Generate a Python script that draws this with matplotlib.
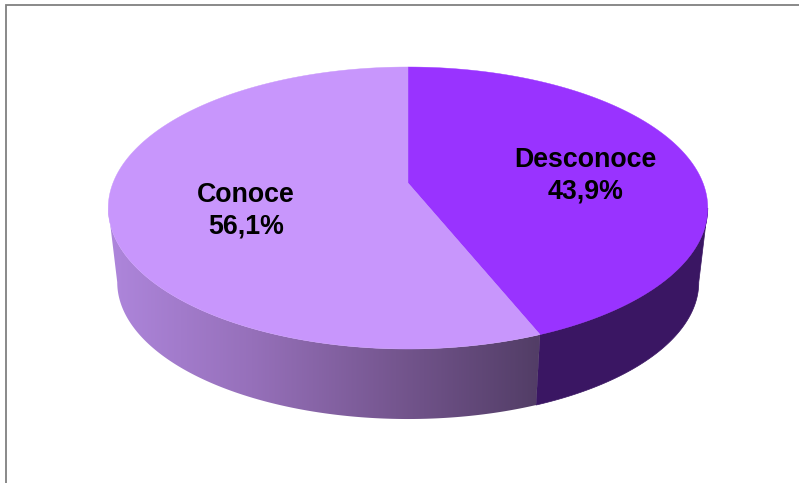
import numpy as np
import matplotlib
matplotlib.use('Agg')
import matplotlib.pyplot as plt
from matplotlib.colors import LinearSegmentedColormap
from matplotlib.patches import Polygon

labels = ['Desconoce', 'Conoce']
shares = [43.9, 56.1]
top_colors = ['#9933FF', '#C896FC']
side_dark = '#3A1663'
side_ramp = ['#AE86DC', '#9670BA', '#75568F', '#523D66']

# pie geometry in pixels, tilted circle seen in perspective
cx, apex_y = 408, 183
top_y, bottom_y = 67, 349
half_w = 295
depth_y, depth_scale = 258, 0.97

persp = (top_y + bottom_y - 2 * apex_y) / (bottom_y - top_y)
tilt = top_y * (1 + persp) - apex_y


def project(deg, lower=False):
    # deg runs clockwise from 12 o'clock
    a = np.radians(deg)
    w = 1 + persp * np.cos(a)
    x = half_w * np.sin(a) / w
    y = (tilt * np.cos(a) + apex_y) / w - apex_y
    if lower:
        return cx + depth_scale * x, depth_y + depth_scale * y
    return cx + x, apex_y + y


def arc(start, end, lower=False):
    t = np.linspace(start, end, 200)
    return np.column_stack(project(t, lower))


plt.rcParams['font.family'] = ['Liberation Sans', 'DejaVu Sans']
fig = plt.figure(figsize=(7.99, 4.83), dpi=100)
ax = fig.add_axes([0, 0, 1, 1])
ax.set_xlim(0, 799)
ax.set_ylim(483, 0)
ax.axis('off')

# frame, only top and left are visible
ax.plot([6, 6, 799], [483, 4.5, 4.5], color='#808080', lw=1.3, solid_joinstyle='miter')

split = shares[0] / sum(shares) * 360
edge = np.degrees(np.arccos(-persp))

# side wall, dark part under the first slice
dark_wall = np.vstack([arc(edge, split), arc(split, edge, True)])
ax.add_patch(Polygon(dark_wall, closed=True, fc=side_dark, ec=side_dark, lw=0.5))

# side wall with the horizontal shading under the second slice
light_wall = np.vstack([arc(split, 360 - edge), arc(360 - edge, split, True)])
clip = Polygon(light_wall, closed=True, fc='none', ec='none')
ax.add_patch(clip)
ramp = LinearSegmentedColormap.from_list('ramp', side_ramp)
img = ax.imshow(np.linspace(0, 1, 256)[None, :], cmap=ramp, aspect='auto',
                extent=[light_wall[:, 0].min(), light_wall[:, 0].max(), 483, 0], zorder=2)
img.set_clip_path(clip)
ax.set_xlim(0, 799)
ax.set_ylim(483, 0)

# top faces
apex = [[cx, apex_y]]
ax.add_patch(Polygon(np.vstack([apex, arc(0, split)]), closed=True,
                     fc=top_colors[0], ec=top_colors[0], lw=0.3, zorder=3))
ax.add_patch(Polygon(np.vstack([apex, arc(split, 360)]), closed=True,
                     fc=top_colors[1], ec=top_colors[1], lw=0.3, zorder=3))

label_pos = [(585.5, 175.5), (246, 210.5)]
for name, share, (lx, ly) in zip(labels, shares, label_pos):
    ax.text(lx, ly, f'{name}\n{share:.1f}%'.replace('.', ','), ha='center', va='center',
            fontsize=19.3, fontweight='bold', color='black', linespacing=1.27, zorder=4)

fig.savefig('out.png', dpi=100)
